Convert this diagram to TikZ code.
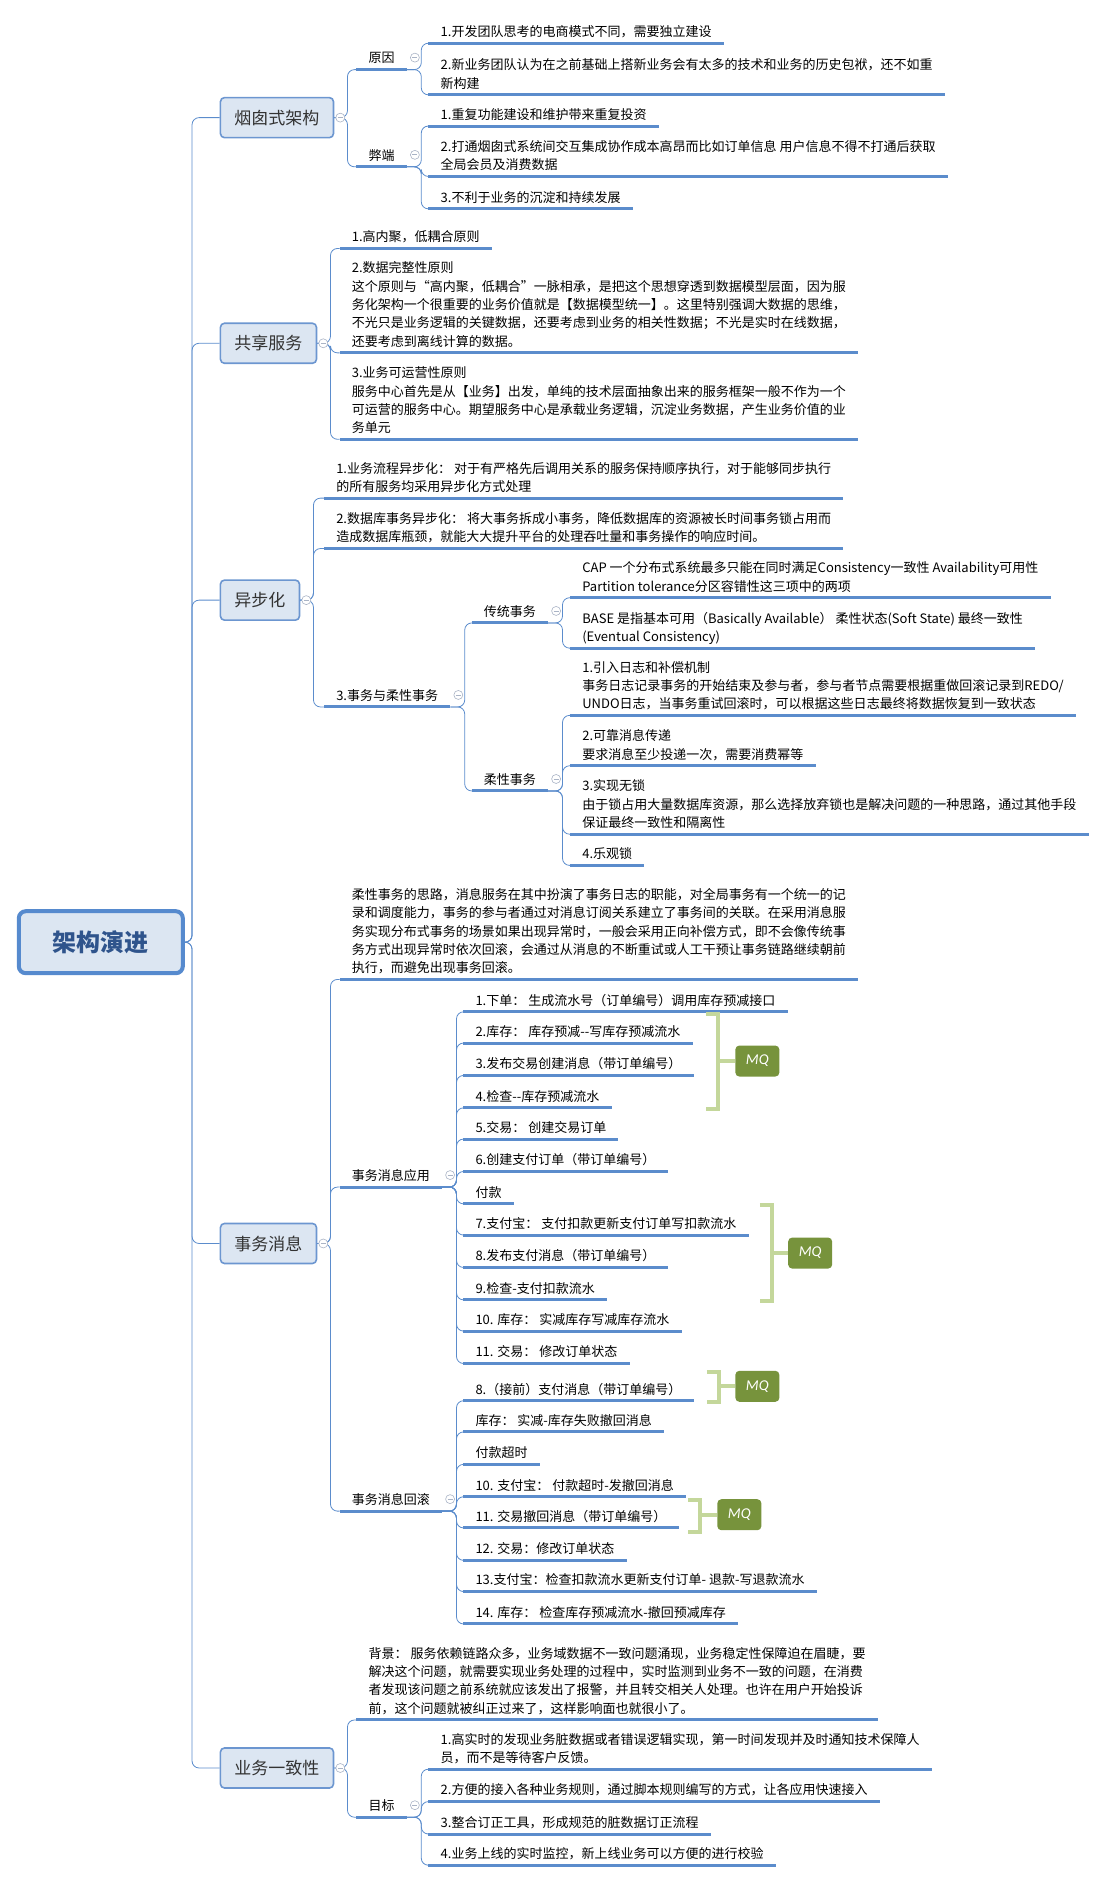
\documentclass[tikz,border=0pt]{standalone}
\usepackage{fontspec}
\setmainfont{Noto Sans CJK SC}
\newfontfamily\mqfont{Carlito}

\definecolor{lineblue}{RGB}{91,140,204}
\definecolor{boxfill}{RGB}{220,230,242}
\definecolor{boxdraw}{RGB}{108,150,208}
\definecolor{rootdraw}{RGB}{86,138,206}
\definecolor{roottext}{RGB}{47,84,140}
\definecolor{foldgray}{RGB}{170,180,198}
\definecolor{mqgreen}{RGB}{119,147,60}
\definecolor{bracegreen}{RGB}{196,215,155}

\tikzset{
  rootbox/.style={draw=rootdraw, line width=4pt, fill=boxfill, rounded corners=7pt,
    minimum width=164pt, minimum height=62pt, text=roottext,
    font=\fontsize{24}{28}\selectfont\bfseries},
  mainbox/.style={draw=boxdraw, line width=1.6pt, fill=boxfill, rounded corners=4pt,
    anchor=west, minimum height=40pt, inner xsep=14pt, text=black!80,
    font=\fontsize{17}{20}\selectfont},
  uline/.style={draw=lineblue, line width=3pt},
  topic/.style={anchor=south west, align=left, inner xsep=12pt, inner ysep=1pt,
    font=\fontsize{13}{18.3}\selectfont, execute at end node=\strut,
    append after command={(\tikzlastnode.south west) edge[uline] (\tikzlastnode.south east)}},
  conn/.style={draw=lineblue, line width=0.8pt, rounded corners=7pt},
  fold/.style={circle, draw=foldgray, fill=white, line width=0.6pt, minimum size=9pt, inner sep=0pt,
    path picture={\draw[foldgray, line width=0.7pt]
      ([xshift=-2.5pt]path picture bounding box.center) -- ([xshift=2.5pt]path picture bounding box.center);}},
  mq/.style={fill=mqgreen, rounded corners=4pt, text=white, minimum width=44pt, minimum height=31pt,
    font=\fontsize{15}{18}\mqfont\itshape},
  brace/.style={draw=bracegreen, line width=4pt},
}

\begin{document}
\begin{tikzpicture}[x=1.2pt, y=-1.2pt]
  \useasboundingbox (0,0) rectangle (921,1568);

  % centre and main branches
  \node[rootbox] (root) at (84,785) {架构演进};
  \node[mainbox] (yc) at (183,98) {烟囱式架构};
  \node[mainbox] (gx) at (183,286) {共享服务};
  \node[mainbox] (yb) at (183,500) {异步化};
  \node[mainbox] (sw) at (183,1036) {事务消息};
  \node[mainbox] (yz) at (183,1473) {业务一致性};
  \foreach \m in {yc,gx,yb,sw,yz}
    \draw[conn] (root.east) -- ++(6,0) |- (\m.west);

  % 烟囱式架构
  \node[topic] (yc1) at (297,58) {原因};
  \node[topic] (yc11) at (357,36) {1.开发团队思考的电商模式不同，需要独立建设};
  \node[topic] (yc12) at (357,79) {2.新业务团队认为在之前基础上搭新业务会有太多的技术和业务的历史包袱，还不如重\\新构建};
  \node[topic] (yc2) at (297,139) {弊端};
  \node[topic] (yc21) at (357,105) {1.重复功能建设和维护带来重复投资};
  \node[topic] (yc22) at (357,147) {2.打通烟囱式系统间交互集成协作成本高昂而比如订单信息 用户信息不得不打通后获取\\全局会员及消费数据};
  \node[topic] (yc23) at (357,174) {3.不利于业务的沉淀和持续发展};
  \foreach \c in {yc1,yc2}
    \draw[conn] (yc.east) -- ++(11,0) |- (\c.south west);
  \foreach \c in {yc11,yc12}
    \draw[conn] (yc1.south east) -- ++(12,0) |- (\c.south west);
  \foreach \c in {yc21,yc22,yc23}
    \draw[conn] (yc2.south east) -- ++(12,0) |- (\c.south west);

  % 共享服务
  \node[topic] (gx1) at (283,207) {1.高内聚，低耦合原则};
  \node[topic] (gx2) at (283,294) {2.数据完整性原则\\这个原则与“高内聚，低耦合”一脉相承，是把这个思想穿透到数据模型层面，因为服\\务化架构一个很重要的业务价值就是【数据模型统一】。这里特别强调大数据的思维，\\不光只是业务逻辑的关键数据，还要考虑到业务的相关性数据；不光是实时在线数据，\\还要考虑到离线计算的数据。};
  \node[topic] (gx3) at (283,366) {3.业务可运营性原则\\服务中心首先是从【业务】出发，单纯的技术层面抽象出来的服务框架一般不作为一个\\可运营的服务中心。期望服务中心是承载业务逻辑，沉淀业务数据，产生业务价值的业\\务单元};
  \foreach \c in {gx1,gx2,gx3}
    \draw[conn] (gx.east) -- ++(11,0) |- (\c.south west);

  % 异步化
  \node[topic] (yb1) at (270,415) {1.业务流程异步化： 对于有严格先后调用关系的服务保持顺序执行，对于能够同步执行\\的所有服务均采用异步化方式处理};
  \node[topic] (yb2) at (270,457) {2.数据库事务异步化： 将大事务拆成小事务，降低数据库的资源被长时间事务锁占用而\\造成数据库瓶颈，就能大大提升平台的处理吞吐量和事务操作的响应时间。};
  \node[topic] (yb3) at (270,589) {3.事务与柔性事务};
  \node[topic] (yb31) at (393,519) {传统事务};
  \node[topic] (yb311) at (475,498) {CAP 一个分布式系统最多只能在同时满足Consistency一致性 Availability可用性\\Partition tolerance分区容错性这三项中的两项};
  \node[topic] (yb312) at (475,540) {BASE 是指基本可用（Basically Available） 柔性状态(Soft State) 最终一致性\\(Eventual Consistency)};
  \node[topic] (yb32) at (393,659) {柔性事务};
  \node[topic] (yb321) at (475,596) {1.引入日志和补偿机制\\事务日志记录事务的开始结束及参与者，参与者节点需要根据重做回滚记录到REDO/\\UNDO日志，当事务重试回滚时，可以根据这些日志最终将数据恢复到一致状态};
  \node[topic] (yb322) at (475,638) {2.可靠消息传递\\要求消息至少投递一次，需要消费幂等};
  \node[topic] (yb323) at (475,695) {3.实现无锁\\由于锁占用大量数据库资源，那么选择放弃锁也是解决问题的一种思路，通过其他手段\\保证最终一致性和隔离性};
  \node[topic] (yb324) at (475,721) {4.乐观锁};
  \foreach \c in {yb1,yb2,yb3}
    \draw[conn] (yb.east) -- ++(11,0) |- (\c.south west);
  \foreach \c in {yb31,yb32}
    \draw[conn] (yb3.south east) -- ++(12,0) |- (\c.south west);
  \foreach \c in {yb311,yb312}
    \draw[conn] (yb31.south east) -- ++(12,0) |- (\c.south west);
  \foreach \c in {yb321,yb322,yb323,yb324}
    \draw[conn] (yb32.south east) -- ++(12,0) |- (\c.south west);

  % 事务消息
  \node[topic] (sw1) at (283,816) {柔性事务的思路，消息服务在其中扮演了事务日志的职能，对全局事务有一个统一的记\\录和调度能力，事务的参与者通过对消息订阅关系建立了事务间的关联。在采用消息服\\务实现分布式事务的场景如果出现异常时，一般会采用正向补偿方式，即不会像传统事\\务方式出现异常时依次回滚，会通过从消息的不断重试或人工干预让事务链路继续朝前\\执行，而避免出现事务回滚。};
  \node[topic] (sw2) at (283,989) {事务消息应用};
  \node[topic] (sw201) at (386,843) {1.下单： 生成流水号（订单编号）调用库存预减接口};
  \node[topic] (sw202) at (386,869) {2.库存： 库存预减-{}-写库存预减流水};
  \node[topic] (sw203) at (386,896) {3.发布交易创建消息（带订单编号）};
  \node[topic] (sw204) at (386,923) {4.检查-{}-库存预减流水};
  \node[topic] (sw205) at (386,949) {5.交易： 创建交易订单};
  \node[topic] (sw206) at (386,976) {6.创建支付订单（带订单编号）};
  \node[topic] (sw207) at (386,1003) {付款};
  \node[topic] (sw208) at (386,1029) {7.支付宝： 支付扣款更新支付订单写扣款流水};
  \node[topic] (sw209) at (386,1056) {8.发布支付消息（带订单编号）};
  \node[topic] (sw210) at (386,1083) {9.检查-支付扣款流水};
  \node[topic] (sw211) at (386,1109) {10. 库存： 实减库存写减库存流水};
  \node[topic] (sw212) at (386,1136) {11. 交易： 修改订单状态};
  \node[topic] (sw3) at (283,1259) {事务消息回滚};
  \node[topic] (sw301) at (386,1167) {8.（接前）支付消息（带订单编号）};
  \node[topic] (sw302) at (386,1193) {库存： 实减-库存失败撤回消息};
  \node[topic] (sw303) at (386,1220) {付款超时};
  \node[topic] (sw304) at (386,1247) {10. 支付宝： 付款超时-发撤回消息};
  \node[topic] (sw305) at (386,1273) {11. 交易撤回消息（带订单编号）};
  \node[topic] (sw306) at (386,1300) {12. 交易：修改订单状态};
  \node[topic] (sw307) at (386,1326) {13.支付宝：检查扣款流水更新支付订单- 退款-写退款流水};
  \node[topic] (sw308) at (386,1353) {14. 库存： 检查库存预减流水-撤回预减库存};
  \foreach \c in {sw1,sw2,sw3}
    \draw[conn] (sw.east) -- ++(11,0) |- (\c.south west);
  \foreach \c in {sw201,sw202,sw203,sw204,sw205,sw206,sw207,sw208,sw209,sw210,sw211,sw212}
    \draw[conn] (sw2.south east) -- ++(12,0) |- (\c.south west);
  \foreach \c in {sw301,sw302,sw303,sw304,sw305,sw306,sw307,sw308}
    \draw[conn] (sw3.south east) -- ++(12,0) |- (\c.south west);

  % MQ summaries
  \node[mq] (mq1) at (631,884) {MQ};
  \draw[brace] (588,845) -- (598,845) -- (598,924) -- (588,924);
  \draw[brace] (598,884) -- (mq1.west);
  \node[mq] (mq2) at (675,1044) {MQ};
  \draw[brace] (633,1004) -- (643,1004) -- (643,1084) -- (633,1084);
  \draw[brace] (643,1044) -- (mq2.west);
  \node[mq] (mq3) at (631,1155) {MQ};
  \draw[brace] (589,1143) -- (599,1143) -- (599,1168) -- (589,1168);
  \draw[brace] (599,1155) -- (mq3.west);
  \node[mq] (mq4) at (616,1262) {MQ};
  \draw[brace] (573,1250) -- (583,1250) -- (583,1276) -- (573,1276);
  \draw[brace] (583,1262) -- (mq4.west);

  % 业务一致性
  \node[topic] (yz1) at (297,1433) {背景： 服务依赖链路众多，业务域数据不一致问题涌现，业务稳定性保障迫在眉睫，要\\解决这个问题，就需要实现业务处理的过程中，实时监测到业务不一致的问题，在消费\\者发现该问题之前系统就应该发出了报警，并且转交相关人处理。也许在用户开始投诉\\前，这个问题就被纠正过来了，这样影响面也就很小了。};
  \node[topic] (yz2) at (297,1514) {目标};
  \node[topic] (yz21) at (357,1474) {1.高实时的发现业务脏数据或者错误逻辑实现，第一时间发现并及时通知技术保障人\\员，而不是等待客户反馈。};
  \node[topic] (yz22) at (357,1501) {2.方便的接入各种业务规则，通过脚本规则编写的方式，让各应用快速接入};
  \node[topic] (yz23) at (357,1528) {3.整合订正工具，形成规范的脏数据订正流程};
  \node[topic] (yz24) at (357,1554) {4.业务上线的实时监控，新上线业务可以方便的进行校验};
  \foreach \c in {yz1,yz2}
    \draw[conn] (yz.east) -- ++(11,0) |- (\c.south west);
  \foreach \c in {yz21,yz22,yz23,yz24}
    \draw[conn] (yz2.south east) -- ++(12,0) |- (\c.south west);

  % fold marks
  \foreach \m in {yc,gx,yb,sw,yz}
    \node[fold] (f-\m) at ([xshift=6pt]\m.east) {};
  \foreach \n in {yc1,yc2,yb3,yb31,yb32,sw2,sw3,yz2}
    \node[fold] (f-\n) at ([xshift=8pt,yshift=12pt]\n.south east) {};
\end{tikzpicture}
\end{document}
